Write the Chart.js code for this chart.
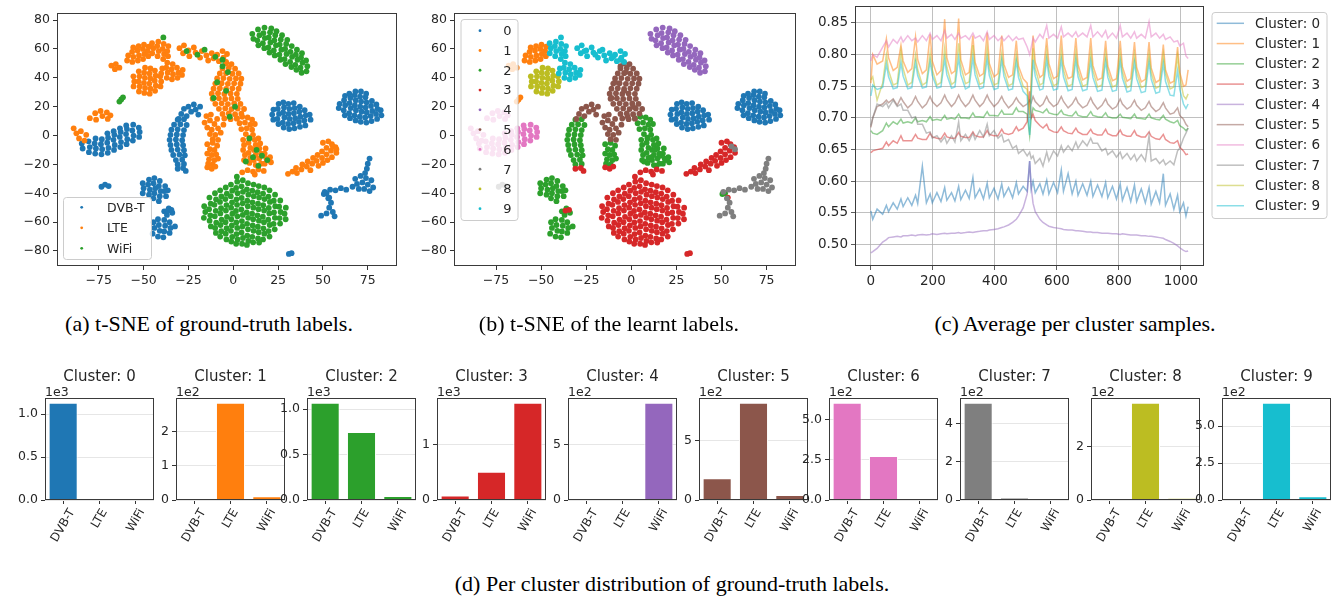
<!DOCTYPE html>
<html>
<head>
<meta charset="utf-8">
<title>t-SNE clusters</title>
<script src="https://cdn.jsdelivr.net/npm/chart.js@4.4.1/dist/chart.umd.min.js"></script>
<style>
  body { margin: 0; background: #fff; }
  #page { position: relative; width: 1339px; height: 600px; overflow: hidden; background: #fff; }
  canvas { position: absolute; }
  .caption { position: absolute; font-family: "Liberation Serif", "Times New Roman", serif; font-size: 22px; line-height: 22px; white-space: nowrap; color: #000; transform: translateX(-50%); }
</style>
</head>
<body>
<div id="page">
  <canvas id="tsneTruth" width="410" height="300" style="left:0px;top:0px"></canvas>
  <canvas id="tsneLearnt" width="410" height="300" style="left:400px;top:0px"></canvas>
  <canvas id="avgSamples" width="539" height="300" style="left:800px;top:0px"></canvas>
  <div class="caption" style="left:209px;top:313px">(a) t-SNE of ground-truth labels.</div>
  <div class="caption" style="left:609px;top:313px">(b) t-SNE of the learnt labels.</div>
  <div class="caption" style="left:1075px;top:313px">(c) Average per cluster samples.</div>
  <div class="caption" style="left:672px;top:573px">(d) Per cluster distribution of ground-truth labels.</div>
</div>
<script>
Chart.defaults.font.family = 'DejaVu Sans';
Chart.defaults.color = '#262626';

const tab10 = ['#1f77b4', '#ff7f0e', '#2ca02c', '#d62728', '#9467bd',
               '#8c564b', '#e377c2', '#7f7f7f', '#bcbd22', '#17becf'];
const truthNames = ['DVB-T', 'LTE', 'WiFi'];
const clusterNames = ['0', '1', '2', '3', '4', '5', '6', '7', '8', '9'];

// t-SNE tick labels
const tsneXTicks = [-75, -50, -25, 0, 25, 50, 75];
const tsneYTicks = [-80, -60, -40, -20, 0, 20, 40, 60, 80];

// t-SNE point groups, flat x,y pairs
const wifiTop = [11.2,67, 10.6,70.5, 14,62.5, 13.4,66, 14.6,69.5, 13.8,73.5, 17.3,60.5, 16.5,64, 17.6,67.5, 16.8,71, 17.4,74.8,
  20.2,57.5, 19.6,61, 20.7,64.5, 19.8,68, 20.5,71.5, 21.2,74.2, 23.1,55.5, 22.6,59, 23.8,62.5, 22.9,66, 23.4,69.5, 24.1,72.3,
  26.3,52.5, 25.7,56, 26.8,59.5, 25.9,63, 26.5,66.5, 27.2,69.5, 29.1,49.5, 28.6,53, 29.7,56.5, 28.9,60, 29.5,63.5, 30.1,66.3,
  32.4,47.5, 31.7,51, 32.8,54.5, 31.9,58, 32.6,62, 35.2,45.5, 34.6,49, 35.8,52.5, 34.9,56, 35.5,59.5, 38.1,43.5, 37.5,47,
  38.6,50.5, 37.8,54, 38.3,57, 40.8,44.5, 41.3,48, 40.6,52];
const dvbMid = [22.3,11, 21.7,14.5, 22.4,18, 25.2,8, 24.6,11.5, 25.5,15, 24.8,18.5, 25.3,22, 28.1,5.5, 27.6,9, 28.5,12.5, 27.8,16,
  28.3,19.5, 27.9,23, 31.2,4.5, 30.6,8, 31.4,11.5, 30.8,15, 31.3,18.5, 30.7,22, 34.1,5, 33.6,8.5, 34.5,12, 33.8,15.5, 34.2,19,
  33.7,22.5, 37.2,6, 36.6,9.5, 37.4,13, 36.8,16.5, 37.1,20, 40.2,7, 39.6,10.5, 40.4,14, 39.8,17.5, 43.1,11, 42.6,14.5];
const dvbRight = [58.8,19, 59.3,22, 62.2,14, 61.6,17.5, 62.4,21, 61.8,24.5, 62.3,27.5, 65.1,12, 64.6,15.5, 65.5,19, 64.8,22.5,
  65.3,26, 64.7,29, 68.2,10.5, 67.6,14, 68.4,17.5, 67.8,21, 68.3,24.5, 67.7,28, 68.1,30.5, 71.1,9.5, 70.6,13, 71.5,16.5, 70.8,20,
  71.3,23.5, 70.7,27, 71.2,30.5, 74.2,9, 73.6,12.5, 74.4,16, 73.8,19.5, 74.3,23, 73.7,26.5, 74.1,29, 77.1,10, 76.6,13.5, 77.5,17,
  76.8,20.5, 77.3,24, 80.2,11.5, 79.6,15, 80.4,18.5, 79.8,21.5, 82.6,14, 82.2,17.5];
const lteTopLeft = [-59.2,52, -58.6,55.5, -56.3,51, -55.7,54.5, -56.4,58, -55.8,61, -53.2,52, -52.6,55.5, -53.4,59, -52.8,62,
  -50.3,53, -49.6,56.5, -50.4,60, -49.8,63, -47.4,55, -47.8,58.5, -47.2,61.5];
const lteSmall = [-68,48.5, -66,46, -65.5,49.5, -63.5,47];
const wifiSmall = [-63.5,23.5, -62.5,25, -61.5,26.5];
const lteTopMid = [-45.2,57, -44.6,60.5, -45.3,64, -42.2,55, -41.6,58.5, -42.4,62, -41.8,65, -39.1,53, -38.6,56.5, -39.4,60,
  -38.8,63.5, -36.4,55, -36.8,58.5, -36.2,62, -40.2,43, -39.6,46.5, -37.1,40, -36.6,43.5, -37.4,47, -36.8,50.5, -34.2,39,
  -33.6,42.5, -34.4,46, -33.8,49.5, -31.1,40, -30.6,43.5, -31.4,47, -28.6,42, -28.2,45.5];
const lteArm = [-30,60.5, -28,57, -27.5,62.5, -25,59, -24.5,55, -22,61, -21,57.5, -18.5,54, -17.5,58.5, -15,55.5, -14,52, -12,57,
  -11,53.5, -9,56, -8,51.5, -6,58.5, -5.5,54, -3.5,56.5, -4,51];
const wifiArm = [-26,58.5, -20,56, -16,59.5, -10,54.5, -6,52.5, -39,68];
const lteLowerLeft = [-55.6,34, -55.2,37.5, -55.7,41, -52.6,30.5, -52.2,34, -52.8,37.5, -52.3,41, -52.7,44.5, -49.6,29.5,
  -49.2,33, -49.8,36.5, -49.3,40, -49.7,43.5, -49.2,47, -46.6,29, -46.2,32.5, -46.8,36, -46.3,39.5, -46.7,43, -46.2,46.5,
  -43.6,31, -43.2,34.5, -43.8,38, -43.3,41.5, -43.7,45, -40.6,34, -40.2,37.5, -40.7,41];
const lteTrunk = [-4,50, -1,49.5, -6,46.5, -2.5,46.8, 1,46.3, -7.5,43, -4,43.2, -0.5,42.8, 3,43, -9,39.5, -5.5,39.8, -2,39.3,
  1.5,39.6, 4.5,39.4, -10,36, -6.5,36.3, -3,35.8, 0.5,36.2, 4,35.9, -11,32.5, -7.5,32.8, -4,32.3, -0.5,32.7, 3,32.4, -12,29,
  -8.5,29.3, -5,28.8, -1.5,29.2, 2,28.9, -11.5,25.5, -8,25.8, -4.5,25.3, -1,25.7, 2.5,25.4, -10,22, -6.5,22.3, -3,21.8, 0.5,22.2,
  4,21.9, -8,18.5, -4.5,18.8, -1,18.3, 2.5,18.7, 6,18.4, -6,15, -2.5,15.3, 1,14.8, 4.5,15.2, -9,11.5, -5,11.8, -1.5,11.3, 2,11.7];
const lteLeftLegTop = [-16,9, -13,10.5, -10.5,8, -14.5,5.5, -12,4, -8.5,5, -5.5,7.5, -13,1, -10,0.5, -7,2, -11.5,-2.5, -8.5,-3,
  -15,13.5, -12.5,14.5];
const lteLeftLeg = [-14.5,-6, -11.5,-5, -9,-7, -13,-9.5, -10.5,-10, -14.5,-12.5, -12,-13.5, -9.5,-13, -13.5,-16.5, -10.5,-17,
  -8.5,-16, -14,-19.5, -11.5,-20];
const lteLeftLegEnd = [-14.5,-22, -12,-23, -10,-21.5];
const dvbArm = [-29,15, -27.5,18.5, -26,13.5, -25,20, -23.5,16.5, -22,21.5, -21,18, -19.5,14.5, -18.5,20, -30.5,11.5];
const lteRightLeg = [2,12, 5,13, 8,12.5, 10.5,11, 3.5,8.5, 6.5,9, 9.5,7.5, 12,8, 4.5,4.5, 7.5,5, 10.5,4, 7,1, 11,0.5, 14,-2,
  5.5,-3, 6,-6.5, 5.5,-10, 6.5,-13.5, 6,-17, 9,-1.5, 8.5,-5, 9.5,-8.5, 8.5,-12, 9.5,-15.5, 9,-19, 12,-3, 12.5,-6.5, 11.5,-10,
  12.5,-13.5, 11.5,-17, 12.5,-20.5, 15,-5.5, 14.5,-9, 15.5,-12.5, 14.5,-16, 15.5,-19.5, 18,-9, 17.5,-12.5, 18.5,-16, 17.5,-19.5,
  20.5,-15, 21,-18.5];
const lteRightLegEnd = [5,-25.5, 8,-24, 11,-25, 14,-23.5, 17,-24.5, 12,-27];
const wifiRightLeg = [9,-2, 13,-10, 16,-14, 7,-18, 11,-15, 19,-17, 14,-21];
const wifiTrunk = [-6,48, -3,44, -9,37, -4,31, -11,26, 1,20, -2,13];
const dvbStrip = [-31,11, -27.5,11.3, -33,7.5, -29.5,7.8, -26,7.3, -34.5,4, -31,4.3, -27.5,3.8, -35,0.5, -31.5,0.8, -28,0.3,
  -35.5,-3, -32,-2.7, -28.5,-3.2, -35,-6.5, -31.5,-6.2, -28,-6.7, -34.5,-10, -31,-9.7, -27.5,-10.2, -33.5,-13.5, -30,-13.2,
  -27,-13.7, -32,-17, -28.5,-16.7, -31,-20, -27.5,-19.7];
const dvbStripEnd = [-31,-23, -28,-22.5, -26.5,-24.5];
const dvbLeft = [-84,-9, -84.5,-5.5, -80.5,-11.5, -80,-8, -80.7,-4, -77,-12.5, -76.6,-9, -77.3,-5.5, -76.8,-2, -73.5,-13,
  -73.1,-9.5, -73.8,-6, -73.3,-2.5, -70,-12, -69.6,-8.5, -70.3,-5, -69.8,-1.5, -70.2,1.5, -66.5,-10, -66.1,-6.5, -66.8,-3,
  -66.3,0.5, -66.7,3, -63,-8, -62.6,-4.5, -63.3,-1, -62.8,2.5, -63.2,5, -59.5,-6, -59.1,-2.5, -59.8,1, -59.3,4.5, -59.7,7,
  -56,-3.5, -55.6,0, -56.3,3.5, -55.8,7.5, -52.5,-1, -52.2,2.5, -52.7,5.5];
const lteLeft = [-80,12, -77,15.5, -76.5,11, -74,17, -73,13.5, -70.5,16, -70,11.5, -68.5,14, -89,5, -87.5,1.5, -85,3, -86,-2,
  -83,-3.5, -82,0.5];
const dvbLowA = [-50.5,-33, -50,-36.5, -50.5,-40, -47,-30.5, -47.5,-34, -46.5,-37.5, -47,-41, -44,-29.5, -44.5,-33, -43.5,-36.5,
  -44,-40, -44.5,-43.5, -41,-31.5, -41.5,-35, -40.5,-38.5, -41,-42, -41.5,-45.5, -38,-35, -38.5,-38.5, -37.5,-42, -36.5,-38];
const dvbLowB = [-44.5,-60, -44,-64, -45,-68, -42,-58, -41.5,-62, -41,-66, -42,-70, -38.5,-58.5, -38,-62.5, -38.5,-66.5,
  -39,-70.5, -35.5,-60, -35,-64, -35.5,-67.5, -32.5,-63, -38.5,-52.5, -36,-50.5, -34,-53.5, -37,-55, 50.5,-40.5, 52,-40];
const dvbStray = [-36.5,-52, -34.5,-51.5, 31,-82, 32.5,-81.5, 53.5,-43];
const dvbBranches = [76,-16, 75,-19.5, 74.5,-23, 73.5,-26, 68,-30, 71,-28, 74,-29.5, 77,-31, 69,-33.5, 72,-32.5, 75,-34, 78,-36,
  73,-37, 76,-38.5, 70,-37, 66.5,-35.5, 51,-39, 54,-37.5, 57,-38, 60,-36.5, 63,-37.5, 53,-43.5, 54.5,-46.5, 53.5,-50, 55.5,-53,
  52,-54, 49,-55.5, 56.5,-56, -73.5,-35.5, -71.5,-34, -69.5,-35];
const lteDiagTip = [55.5,-7.5, 57.5,-9.5];
const lteDiag = [30.5,-26.5, 33,-25, 35.5,-26, 35,-22.5, 38,-23.5, 38.5,-20, 41,-21.5, 41.5,-18, 43,-24, 44,-19.5, 44.5,-15.5,
  46.5,-17.5, 47,-13.5, 47.5,-21, 49.5,-15.5, 49.5,-11, 50,-19, 52,-13, 52,-8.5, 52.5,-17, 54.5,-10.5, 55,-6, 55,-15, 57,-8,
  57.5,-12, 50,-5, 53,-4];
const wifiBig = [-16.2,-49, -15.6,-53, -16.4,-57, -13.3,-43, -12.6,-47.2, -13.5,-51, -12.8,-55.3, -13.2,-59, -12.5,-63,
  -10.2,-40, -9.6,-44.3, -10.5,-48, -9.8,-52.2, -10.3,-56, -9.5,-60.4, -10.1,-64, -9.7,-67.5,
  -7.3,-38, -6.6,-42.2, -7.4,-46, -6.8,-50.3, -7.2,-54, -6.5,-58.2, -7.1,-62, -6.7,-66.3, -7.3,-70,
  -4.2,-36, -3.6,-40.3, -4.4,-44, -3.8,-48.2, -4.1,-52, -3.5,-56.3, -4.3,-60, -3.7,-64.2, -4.2,-68, -3.8,-72,
  -1.3,-34, -0.6,-38.2, -1.4,-42, -0.7,-46.3, -1.2,-50, -0.5,-54.2, -1.1,-58, -0.8,-62.3, -1.3,-66, -0.6,-70.2, -1.1,-73.5,
  2.2,-32, 1.6,-36.3, 2.4,-40, 1.8,-44.2, 2.1,-48, 1.5,-52.3, 2.3,-56, 1.7,-60.2, 2.2,-64, 1.8,-68.3, 2.4,-72, 1.6,-75,
  5.3,-31, 4.6,-35.2, 5.4,-39, 4.7,-43.3, 5.2,-47, 4.5,-51.2, 5.3,-55, 4.8,-59.3, 5.1,-63, 4.6,-67.2, 5.4,-71, 4.9,-75,
  8.2,-33, 7.6,-37.3, 8.4,-41, 7.8,-45.2, 8.1,-49, 7.5,-53.3, 8.3,-57, 7.7,-61.2, 8.2,-65, 7.8,-69.3, 8.4,-73, 7.6,-75.8,
  11.3,-34, 10.6,-38.2, 11.4,-42, 10.7,-46.3, 11.2,-50, 10.5,-54.2, 11.1,-58, 10.8,-62.3, 11.3,-66, 10.6,-70.2, 11.1,-74,
  14.2,-35, 13.6,-39.3, 14.4,-43, 13.8,-47.2, 14.1,-51, 13.5,-55.3, 14.3,-59, 13.7,-63.2, 14.2,-67, 13.8,-71.3, 14.4,-74.2,
  17.3,-36, 16.6,-40.2, 17.4,-44, 16.7,-48.3, 17.2,-52, 16.5,-56.2, 17.1,-60, 16.8,-64.3, 17.3,-68, 16.6,-72,
  20.2,-38, 19.6,-42.3, 20.4,-46, 19.8,-50.2, 20.1,-54, 19.5,-58.3, 20.3,-62, 19.7,-66.2, 20.2,-70,
  23.3,-41, 22.6,-45.2, 23.4,-49, 22.7,-53.3, 23.2,-57, 22.5,-61.2, 23.1,-65,
  26.2,-45, 25.6,-49.3, 26.4,-53, 25.8,-57.2, 26.1,-61, 29.3,-50, 28.6,-54.2, 29.2,-58, 2,-28.5];

// [points, ground-truth label, learnt cluster]
const tsneGroups = [
  [dvbMid, 0, 0], [dvbRight, 0, 0],
  [lteTopLeft, 1, 1], [lteSmall, 1, 1], [wifiSmall, 2, 1],
  [dvbStrip, 0, 2], [dvbLowA, 0, 2], [dvbLowB, 0, 2], [lteLeftLeg, 1, 2], [lteRightLeg, 1, 2], [wifiRightLeg, 2, 2],
  [dvbStripEnd, 0, 3], [dvbStray, 0, 3], [lteLeftLegEnd, 1, 3], [lteRightLegEnd, 1, 3], [lteDiag, 1, 3], [wifiBig, 2, 3],
  [wifiTop, 2, 4],
  [dvbArm, 0, 5], [lteTrunk, 1, 5], [lteLeftLegTop, 1, 5], [wifiTrunk, 2, 5],
  [dvbLeft, 0, 6], [lteLeft, 1, 6],
  [dvbBranches, 0, 7], [lteDiagTip, 1, 7],
  [lteLowerLeft, 1, 8],
  [lteTopMid, 1, 9], [lteArm, 1, 9], [wifiArm, 2, 9]
];

// (c) average samples
const sampleIndex = [0, 6, 20, 38, 50, 57, 72, 85, 97, 104, 119, 132, 144, 151, 166, 179, 191, 198, 213, 226,
  238, 245, 260, 271, 283, 290, 305, 317, 329, 336, 351, 363, 375, 382, 397, 410, 422, 429, 444, 457,
  469, 476, 491, 504, 512, 517, 523, 530, 545, 555, 567, 574, 589, 602, 614, 621, 636, 649, 661, 668,
  683, 697, 709, 716, 731, 745, 757, 764, 779, 792, 804, 811, 826, 838, 850, 857, 872, 885, 897, 904,
  919, 931, 943, 950, 965, 977, 989, 996, 1008, 1016, 1023];
const avgCluster0 = [0.553, 0.540, 0.556, 0.548, 0.562, 0.552, 0.566, 0.556, 0.572, 0.560,
  0.574, 0.562, 0.578, 0.565, 0.624, 0.566, 0.580, 0.566, 0.582, 0.568,
  0.590, 0.570, 0.582, 0.569, 0.592, 0.571, 0.586, 0.573, 0.606, 0.574,
  0.588, 0.572, 0.597, 0.574, 0.589, 0.572, 0.596, 0.576, 0.590, 0.574,
  0.598, 0.580, 0.592, 0.584, 0.632, 0.588, 0.600, 0.582, 0.596, 0.580,
  0.602, 0.580, 0.598, 0.582, 0.618, 0.584, 0.612, 0.580, 0.600, 0.578,
  0.596, 0.578, 0.600, 0.576, 0.594, 0.576, 0.598, 0.574, 0.592, 0.572,
  0.596, 0.570, 0.590, 0.568, 0.594, 0.568, 0.588, 0.566, 0.590, 0.564,
  0.584, 0.566, 0.612, 0.562, 0.580, 0.556, 0.578, 0.552, 0.566, 0.545, 0.560];
const avgCluster1 = [0.755, 0.800, 0.785, 0.790, 0.825, 0.795, 0.775, 0.780, 0.815, 0.790,
  0.772, 0.778, 0.828, 0.792, 0.770, 0.776, 0.832, 0.790, 0.768, 0.775,
  0.856, 0.795, 0.770, 0.774, 0.857, 0.792, 0.768, 0.772, 0.830, 0.788,
  0.766, 0.770, 0.835, 0.786, 0.765, 0.770, 0.830, 0.785, 0.764, 0.768,
  0.822, 0.782, 0.762, 0.755, 0.705, 0.760, 0.830, 0.788, 0.764, 0.768,
  0.826, 0.786, 0.762, 0.766, 0.830, 0.785, 0.762, 0.765, 0.826, 0.784,
  0.760, 0.764, 0.826, 0.783, 0.760, 0.763, 0.822, 0.782, 0.759, 0.762,
  0.822, 0.781, 0.758, 0.762, 0.820, 0.780, 0.757, 0.761, 0.820, 0.779,
  0.756, 0.760, 0.816, 0.776, 0.755, 0.758, 0.812, 0.772, 0.750, 0.752, 0.776];
const avgCluster2 = [0.680, 0.676, 0.674, 0.680, 0.692, 0.686, 0.694, 0.690, 0.698, 0.692,
  0.694, 0.692, 0.700, 0.694, 0.696, 0.694, 0.702, 0.696, 0.698, 0.696,
  0.704, 0.698, 0.700, 0.698, 0.706, 0.700, 0.700, 0.699, 0.708, 0.702,
  0.702, 0.701, 0.710, 0.704, 0.704, 0.703, 0.712, 0.706, 0.706, 0.706,
  0.716, 0.710, 0.710, 0.706, 0.672, 0.700, 0.716, 0.712, 0.710, 0.708,
  0.714, 0.708, 0.706, 0.705, 0.712, 0.706, 0.704, 0.703, 0.710, 0.704,
  0.702, 0.702, 0.710, 0.704, 0.702, 0.701, 0.708, 0.702, 0.700, 0.700,
  0.706, 0.701, 0.700, 0.699, 0.706, 0.700, 0.699, 0.698, 0.706, 0.700,
  0.698, 0.697, 0.704, 0.698, 0.694, 0.692, 0.696, 0.688, 0.684, 0.680, 0.684];
const avgCluster3 = [0.645, 0.648, 0.650, 0.652, 0.662, 0.656, 0.664, 0.660, 0.672, 0.664,
  0.664, 0.664, 0.674, 0.668, 0.666, 0.666, 0.676, 0.670, 0.668, 0.667,
  0.676, 0.670, 0.668, 0.668, 0.677, 0.671, 0.669, 0.669, 0.678, 0.672,
  0.670, 0.670, 0.680, 0.674, 0.672, 0.672, 0.682, 0.676, 0.674, 0.676,
  0.686, 0.680, 0.684, 0.694, 0.742, 0.700, 0.706, 0.696, 0.688, 0.684,
  0.690, 0.682, 0.678, 0.677, 0.686, 0.680, 0.676, 0.675, 0.684, 0.678,
  0.674, 0.674, 0.682, 0.676, 0.673, 0.673, 0.682, 0.675, 0.672, 0.672,
  0.681, 0.674, 0.671, 0.671, 0.680, 0.673, 0.670, 0.670, 0.678, 0.671,
  0.667, 0.666, 0.674, 0.666, 0.661, 0.660, 0.664, 0.654, 0.648, 0.642, 0.643];
const avgCluster4 = [0.487, 0.489, 0.494, 0.504, 0.508, 0.511, 0.512, 0.513, 0.512, 0.514,
  0.514, 0.515, 0.514, 0.515, 0.516, 0.515, 0.516, 0.517, 0.516, 0.517,
  0.518, 0.517, 0.518, 0.518, 0.519, 0.518, 0.519, 0.520, 0.519, 0.520,
  0.521, 0.522, 0.522, 0.523, 0.524, 0.525, 0.527, 0.528, 0.531, 0.535,
  0.540, 0.545, 0.558, 0.580, 0.632, 0.590, 0.565, 0.552, 0.540, 0.535,
  0.531, 0.529, 0.527, 0.526, 0.525, 0.524, 0.523, 0.523, 0.522, 0.522,
  0.521, 0.520, 0.520, 0.519, 0.519, 0.518, 0.518, 0.518, 0.517, 0.517,
  0.516, 0.517, 0.516, 0.515, 0.515, 0.515, 0.514, 0.514, 0.513, 0.513,
  0.512, 0.511, 0.510, 0.508, 0.505, 0.502, 0.498, 0.495, 0.491, 0.489, 0.490];
const avgCluster5 = [0.685, 0.700, 0.718, 0.722, 0.728, 0.724, 0.730, 0.720, 0.732, 0.726,
  0.716, 0.722, 0.734, 0.726, 0.716, 0.722, 0.734, 0.726, 0.718, 0.724,
  0.736, 0.728, 0.718, 0.724, 0.736, 0.728, 0.718, 0.724, 0.736, 0.728,
  0.718, 0.724, 0.736, 0.728, 0.718, 0.724, 0.734, 0.726, 0.716, 0.722,
  0.732, 0.726, 0.718, 0.722, 0.728, 0.724, 0.734, 0.726, 0.718, 0.722,
  0.734, 0.726, 0.718, 0.722, 0.734, 0.726, 0.716, 0.722, 0.732, 0.724,
  0.716, 0.720, 0.732, 0.724, 0.714, 0.720, 0.730, 0.722, 0.714, 0.718,
  0.730, 0.722, 0.714, 0.718, 0.728, 0.720, 0.712, 0.716, 0.726, 0.718,
  0.710, 0.714, 0.724, 0.716, 0.706, 0.708, 0.716, 0.704, 0.698, 0.690, 0.686];
const avgCluster6 = [0.790, 0.800, 0.796, 0.812, 0.822, 0.812, 0.824, 0.818, 0.828, 0.820,
  0.830, 0.822, 0.826, 0.820, 0.830, 0.822, 0.834, 0.824, 0.830, 0.822,
  0.838, 0.826, 0.832, 0.824, 0.834, 0.826, 0.830, 0.824, 0.834, 0.826,
  0.830, 0.822, 0.836, 0.824, 0.830, 0.822, 0.828, 0.822, 0.830, 0.822,
  0.828, 0.824, 0.826, 0.812, 0.800, 0.812, 0.826, 0.820, 0.832, 0.826,
  0.846, 0.826, 0.832, 0.826, 0.844, 0.828, 0.834, 0.828, 0.836, 0.828,
  0.834, 0.828, 0.846, 0.828, 0.836, 0.828, 0.838, 0.826, 0.834, 0.826,
  0.846, 0.828, 0.834, 0.826, 0.836, 0.826, 0.832, 0.826, 0.852, 0.828,
  0.834, 0.826, 0.832, 0.824, 0.828, 0.820, 0.822, 0.814, 0.818, 0.798, 0.794];
const avgCluster7 = [0.688, 0.700, 0.722, 0.718, 0.724, 0.716, 0.728, 0.718, 0.722, 0.712,
  0.712, 0.700, 0.702, 0.690, 0.690, 0.676, 0.678, 0.668, 0.672, 0.662,
  0.670, 0.660, 0.672, 0.662, 0.694, 0.664, 0.674, 0.664, 0.676, 0.666,
  0.680, 0.670, 0.690, 0.672, 0.680, 0.668, 0.674, 0.662, 0.666, 0.652,
  0.656, 0.644, 0.650, 0.640, 0.646, 0.636, 0.640, 0.628, 0.636, 0.624,
  0.646, 0.632, 0.648, 0.640, 0.656, 0.646, 0.656, 0.648, 0.662, 0.652,
  0.664, 0.656, 0.668, 0.660, 0.660, 0.648, 0.652, 0.642, 0.648, 0.638,
  0.646, 0.636, 0.644, 0.634, 0.642, 0.632, 0.642, 0.632, 0.672, 0.632,
  0.636, 0.628, 0.634, 0.626, 0.632, 0.626, 0.648, 0.652, 0.668, 0.676, 0.684];
const avgCluster8 = [0.760, 0.765, 0.728, 0.755, 0.800, 0.775, 0.752, 0.755, 0.805, 0.778,
  0.752, 0.756, 0.800, 0.776, 0.752, 0.756, 0.802, 0.776, 0.752, 0.756,
  0.810, 0.780, 0.753, 0.757, 0.818, 0.782, 0.754, 0.757, 0.815, 0.780,
  0.753, 0.756, 0.810, 0.778, 0.752, 0.755, 0.802, 0.776, 0.751, 0.754,
  0.800, 0.774, 0.750, 0.745, 0.700, 0.748, 0.810, 0.778, 0.752, 0.755,
  0.806, 0.776, 0.751, 0.754, 0.806, 0.776, 0.750, 0.753, 0.804, 0.775,
  0.750, 0.753, 0.804, 0.775, 0.749, 0.752, 0.802, 0.774, 0.749, 0.752,
  0.802, 0.773, 0.748, 0.751, 0.800, 0.772, 0.748, 0.751, 0.800, 0.771,
  0.747, 0.750, 0.800, 0.770, 0.746, 0.749, 0.798, 0.765, 0.735, 0.730, 0.738];
const avgCluster9 = [0.735, 0.752, 0.745, 0.748, 0.785, 0.765, 0.746, 0.748, 0.787, 0.766,
  0.746, 0.748, 0.788, 0.767, 0.747, 0.749, 0.790, 0.767, 0.747, 0.749,
  0.793, 0.768, 0.747, 0.749, 0.795, 0.768, 0.746, 0.749, 0.795, 0.768,
  0.746, 0.748, 0.794, 0.767, 0.745, 0.747, 0.792, 0.766, 0.744, 0.746,
  0.790, 0.764, 0.742, 0.735, 0.673, 0.735, 0.792, 0.766, 0.744, 0.746,
  0.792, 0.766, 0.744, 0.746, 0.792, 0.765, 0.743, 0.745, 0.792, 0.765,
  0.743, 0.745, 0.790, 0.764, 0.742, 0.744, 0.790, 0.764, 0.742, 0.744,
  0.790, 0.763, 0.741, 0.743, 0.788, 0.762, 0.740, 0.742, 0.788, 0.761,
  0.739, 0.741, 0.786, 0.758, 0.736, 0.735, 0.775, 0.745, 0.722, 0.715, 0.722];
const avgSeries = [avgCluster0, avgCluster1, avgCluster2, avgCluster3, avgCluster4,
                   avgCluster5, avgCluster6, avgCluster7, avgCluster8, avgCluster9];
const avgXTicks = [0, 200, 400, 600, 800, 1000];
const avgYTicks = [0.50, 0.55, 0.60, 0.65, 0.70, 0.75, 0.80, 0.85];

// (d) ground-truth counts per learnt cluster
const barCategories = ['DVB-T', 'LTE', 'WiFi'];
const clusterCounts = [
  [1130, 0, 0], [0, 284, 11], [1070, 750, 44], [80, 510, 1750], [0, 0, 873],
  [182, 815, 42], [603, 273, 10], [508, 12, 0], [0, 363, 7], [0, 657, 25]
];
const barTickValues = [[0, 500, 1000], [0, 100, 200], [0, 500, 1000], [0, 1000], [0, 500],
                       [0, 500], [0, 250, 500], [0, 200, 400], [0, 200], [0, 250, 500]];
const barTickLabels = [['0.0', '0.5', '1.0'], ['0', '1', '2'], ['0.0', '0.5', '1.0'], ['0', '1'], ['0', '5'],
                       ['0', '5'], ['0.0', '2.5', '5.0'], ['0', '2', '4'], ['0', '2'], ['0.0', '2.5', '5.0']];
const barOffsetText = ['1e3', '1e2', '1e3', '1e3', '1e2', '1e2', '1e2', '1e2', '1e2', '1e2'];
const barLefts = [45, 176, 307, 437, 568, 699, 829, 960, 1091, 1222];

// ---------------------------------------------------------------

const decor = {};

function toPoints(flat) {
  const out = [];
  for (let i = 0; i < flat.length; i += 2) out.push({ x: flat[i], y: flat[i + 1] });
  return out;
}

function fixAxis(size) {
  return function (scale) {
    if (scale.isHorizontal()) scale.height = size; else scale.width = size;
    scale.paddingTop = 0; scale.paddingBottom = 0;
    scale.paddingLeft = 0; scale.paddingRight = 0;
  };
}

function setTicks(values) {
  return function (scale) {
    scale.ticks = values.map(v => ({ value: v }));
  };
}

function minusSign(v) {
  return String(v).replace('-', '\u2212');
}

function drawLegend(ctx, L) {
  ctx.save();
  ctx.beginPath();
  ctx.roundRect(L.x + 0.5, L.y + 0.5, L.w, L.h, 3);
  ctx.fillStyle = 'rgba(255,255,255,0.8)';
  ctx.fill();
  ctx.strokeStyle = '#cccccc';
  ctx.lineWidth = 1;
  ctx.stroke();
  ctx.font = L.font;
  ctx.textAlign = 'left';
  ctx.textBaseline = 'middle';
  L.items.forEach((it, i) => {
    const y = L.firstY + i * L.rowH;
    if (L.kind === 'dot') {
      ctx.fillStyle = it.color;
      ctx.beginPath();
      ctx.arc(L.markerX, y, 1.4, 0, Math.PI * 2);
      ctx.fill();
    } else {
      ctx.globalAlpha = 0.5;
      ctx.strokeStyle = it.color;
      ctx.lineWidth = 1.5;
      ctx.beginPath();
      ctx.moveTo(L.markerX, y);
      ctx.lineTo(L.markerX2, y);
      ctx.stroke();
      ctx.globalAlpha = 1;
    }
    ctx.fillStyle = '#262626';
    ctx.fillText(it.label, L.textX, y + 1);
  });
  ctx.restore();
}

const decorPlugin = {
  id: 'decor',
  afterDraw(chart) {
    const ctx = chart.ctx, a = chart.chartArea, d = decor[chart.canvas.id] || {};
    ctx.save();
    // full axes frame
    ctx.strokeStyle = '#3a3a3a';
    ctx.lineWidth = 1;
    const l = Math.round(a.left), t = Math.round(a.top);
    ctx.strokeRect(l + 0.5, t + 0.5, Math.round(a.right) - l - 1, Math.round(a.bottom) - t - 1);
    ctx.fillStyle = '#262626';
    if (d.title) {
      ctx.font = '15px "DejaVu Sans"';
      ctx.textAlign = 'center';
      ctx.textBaseline = 'alphabetic';
      ctx.fillText(d.title, (a.left + a.right) / 2, d.titleY);
    }
    if (d.offset) {
      ctx.font = '12.5px "DejaVu Sans"';
      ctx.textAlign = 'left';
      ctx.textBaseline = 'alphabetic';
      ctx.fillText(d.offset, a.left, a.top - 2.5);
    }
    if (d.rotLabels) {
      ctx.font = '12px "DejaVu Sans"';
      const xs = chart.scales.x;
      d.rotLabels.forEach((lab, i) => {
        const px = xs.getPixelForValue(i);
        const w = ctx.measureText(lab).width;
        const bh = w * Math.sin(Math.PI / 3) + 12 * Math.cos(Math.PI / 3);
        ctx.save();
        ctx.translate(px, a.bottom + 7 + bh / 2);
        ctx.rotate(-Math.PI / 3);
        ctx.textAlign = 'center';
        ctx.textBaseline = 'middle';
        ctx.fillText(lab, 0, 0);
        ctx.restore();
      });
    }
    ctx.restore();
    if (d.legend) drawLegend(ctx, d.legend);
  }
};

function axisStyle(size, fontSize, extra) {
  return Object.assign({
    afterFit: fixAxis(size),
    border: { display: false },
    grid: { display: true, drawOnChartArea: false, drawTicks: true, tickLength: 4, color: '#333333' },
    ticks: { font: { size: fontSize }, color: '#262626', padding: 3, autoSkip: false, maxRotation: 0 }
  }, extra);
}

function tsneChart(id, groups, colors, pad) {
  const datasets = groups.map((pts, i) => ({
    data: pts,
    backgroundColor: colors[i],
    borderWidth: 0,
    pointRadius: 2.9,
    order: groups.length - 1 - i
  }));
  return new Chart(document.getElementById(id), {
    type: 'scatter',
    data: { datasets },
    options: {
      responsive: false, animation: false, events: [],
      layout: { padding: { left: 0, top: 13, right: pad.right, bottom: 0 } },
      plugins: { legend: { display: false }, tooltip: { enabled: false } },
      scales: {
        x: axisStyle(34, 12.5, {
          type: 'linear', min: -98.3, max: 91.3, afterBuildTicks: setTicks(tsneXTicks),
          ticks: { font: { size: 12.5 }, color: '#262626', padding: 3, autoSkip: false, maxRotation: 0, callback: minusSign }
        }),
        y: axisStyle(pad.left, 12.5, {
          type: 'linear', min: -90.4, max: 84.9, afterBuildTicks: setTicks(tsneYTicks),
          ticks: { font: { size: 12.5 }, color: '#262626', padding: 3, autoSkip: false, callback: minusSign }
        })
      }
    },
    plugins: [decorPlugin]
  });
}

// (a) ground truth and (b) learnt clusters share the same points
const truthGroups = truthNames.map(() => []);
const clusterGroups = clusterNames.map(() => []);
tsneGroups.forEach(([flat, truth, cluster]) => {
  const pts = toPoints(flat);
  truthGroups[truth].push(...pts);
  clusterGroups[cluster].push(...pts);
});

decor.tsneTruth = {
  legend: {
    x: 63, y: 197, w: 88, h: 62, kind: 'dot', markerX: 81.7, textX: 107, firstY: 207.3, rowH: 20.5,
    font: '12.5px "DejaVu Sans"',
    items: truthNames.map((n, i) => ({ label: n, color: tab10[i] }))
  }
};
tsneChart('tsneTruth', truthGroups, tab10.slice(0, 3), { left: 57, right: 13 });

decor.tsneLearnt = {
  legend: {
    x: 60.5, y: 19, w: 57, h: 201, kind: 'dot', markerX: 80, textX: 103.3, firstY: 30.7, rowH: 19.78,
    font: '13px "DejaVu Sans"',
    items: clusterNames.map((n, i) => ({ label: n, color: tab10[i] }))
  }
};
tsneChart('tsneLearnt', clusterGroups, tab10, { left: 54, right: 14 });

// (c) average per cluster samples
decor.avgSamples = {
  legend: {
    x: 411.5, y: 12, w: 115, h: 206, kind: 'line', markerX: 416.7, markerX2: 444, textX: 455, firstY: 23.3, rowH: 20.27,
    font: '13.5px "DejaVu Sans"',
    items: clusterNames.map((n, i) => ({ label: 'Cluster: ' + n, color: tab10[i] }))
  }
};
new Chart(document.getElementById('avgSamples'), {
  type: 'line',
  data: {
    datasets: avgSeries.map((s, i) => ({
      data: s.map((v, j) => ({ x: sampleIndex[j], y: v })),
      borderColor: tab10[i] + '80',
      borderWidth: 1.5,
      pointRadius: 0,
      tension: 0,
      fill: false,
      order: avgSeries.length - 1 - i
    }))
  },
  options: {
    responsive: false, animation: false, events: [],
    layout: { padding: { left: 0, top: 6, right: 135, bottom: 0 } },
    plugins: { legend: { display: false }, tooltip: { enabled: false } },
    scales: {
      x: axisStyle(34, 13.5, {
        type: 'linear', min: -51.2, max: 1074.2, afterBuildTicks: setTicks(avgXTicks),
        grid: { display: true, drawOnChartArea: true, drawTicks: true, tickLength: 4, color: '#b0b0b0', lineWidth: 0.8, tickColor: '#333333' },
        ticks: { font: { size: 13.5 }, color: '#262626', padding: 3, autoSkip: false, maxRotation: 0, callback: v => String(v) }
      }),
      y: axisStyle(55, 13.5, {
        type: 'linear', min: 0.4662, max: 0.8768, afterBuildTicks: setTicks(avgYTicks),
        grid: { display: true, drawOnChartArea: true, drawTicks: true, tickLength: 4, color: '#b0b0b0', lineWidth: 0.8, tickColor: '#333333' },
        ticks: { font: { size: 13.5 }, color: '#262626', padding: 3, autoSkip: false, callback: v => v.toFixed(2) }
      })
    }
  },
  plugins: [decorPlugin]
});

// (d) per cluster distribution
const page = document.getElementById('page');
clusterCounts.forEach((counts, i) => {
  const cv = document.createElement('canvas');
  cv.id = 'dist' + i;
  cv.width = 170; cv.height = 210;
  cv.style.left = (barLefts[i] - 45) + 'px';
  cv.style.top = '350px';
  page.appendChild(cv);
  decor[cv.id] = { title: 'Cluster: ' + i, titleY: 30.7, offset: barOffsetText[i], rotLabels: barCategories };
  const ticks = barTickValues[i], labels = barTickLabels[i];
  new Chart(cv, {
    type: 'bar',
    data: {
      labels: barCategories,
      datasets: [{
        data: counts,
        backgroundColor: tab10[i],
        borderColor: '#ffffff',
        borderWidth: 1,
        barPercentage: 0.8,
        categoryPercentage: 1.0
      }]
    },
    options: {
      responsive: false, animation: false, events: [],
      layout: { padding: { left: 0, top: 48, right: 16, bottom: 0 } },
      plugins: { legend: { display: false }, tooltip: { enabled: false } },
      scales: {
        x: axisStyle(60, 12, {
          type: 'category', offset: true,
          grid: { display: true, offset: false, drawOnChartArea: false, drawTicks: true, tickLength: 4, color: '#333333' },
          ticks: { display: false }
        }),
        y: axisStyle(45, 12.5, {
          type: 'linear', min: 0, max: Math.max(...counts) * 1.05, afterBuildTicks: setTicks(ticks),
          grid: { display: true, drawOnChartArea: true, drawTicks: true, tickLength: 4, color: '#e6e6e6', tickColor: '#333333' },
          ticks: { font: { size: 12.5 }, color: '#262626', padding: 3, autoSkip: false, callback: v => labels[ticks.indexOf(v)] }
        })
      }
    },
    plugins: [decorPlugin]
  });
});
</script>
</body>
</html>
